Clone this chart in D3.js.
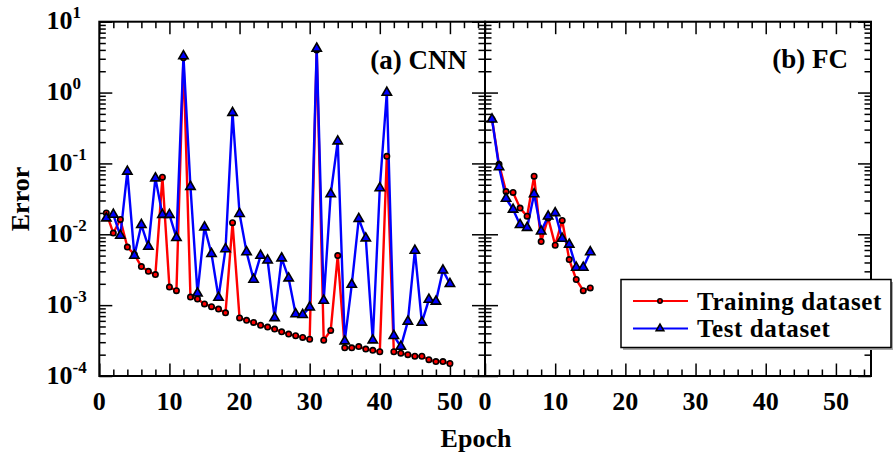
<!DOCTYPE html>
<html lang="en">
<head>
    <meta charset="UTF-8">
    <title>CNN vs FC error</title>
    <style>
        body { margin: 0; background: #fff; }
        text {
            font-family: "Liberation Serif", "Times New Roman", serif;
            font-weight: bold;
            fill: black;
        }
        .tick line { stroke: black; stroke-width: 1.5px; }
        .domain { display: none; }
    </style>
    <script src="https://d3js.org/d3.v7.min.js"></script>
</head>
<body>
    <svg width="896" height="457"></svg>
    <script>
        // Data
        const epochsCNN = d3.range(1, 51);
        const epochsFC = d3.range(1, 16);

        const cnnTrain = [0.020, 0.0104, 0.0162, 0.0066, 0.0052, 0.0035, 0.0030, 0.0027, 0.064, 0.0018,
            0.0016, 3.1, 0.0013, 0.00122, 0.00104, 0.00095, 0.00088, 0.00078, 0.0146, 0.00066,
            0.00061, 0.00057, 0.00052, 0.00049, 0.00046, 0.00042, 0.00039, 0.00037, 0.00035, 0.00033,
            4.0, 0.00032, 0.00044, 0.0050, 0.00025, 0.00025, 0.00026, 0.00024, 0.00023, 0.00022,
            0.126, 0.00022, 0.00021, 0.00020, 0.00019, 0.00019, 0.00017, 0.00016, 0.00016, 0.00015];
        const cnnTest = [0.0169, 0.019, 0.0096, 0.077, 0.0050, 0.0136, 0.0067, 0.062, 0.0189, 0.0189,
            0.0089, 3.27, 0.047, 0.00147, 0.0126, 0.0053, 0.00128, 0.0062, 0.52, 0.0195,
            0.0056, 0.0023, 0.0050, 0.0043, 0.00066, 0.0046, 0.0024, 0.00075, 0.00073, 0.00093,
            4.2, 0.00116, 0.037, 0.206, 0.00031, 0.00195, 0.0166, 0.0088, 0.00032, 0.045,
            1.0, 0.00037, 0.00026, 0.00059, 0.0059, 0.00057, 0.0012, 0.00113, 0.0031, 0.0020];
        const fcTrain = [0.42, 0.097, 0.040, 0.039, 0.0234, 0.018, 0.066, 0.0079, 0.017, 0.0070,
            0.0157, 0.0044, 0.0023, 0.0016, 0.00175];
        const fcTest = [0.42, 0.089, 0.032, 0.0224, 0.0136, 0.0124, 0.037, 0.011, 0.0179, 0.020,
            0.0087, 0.0072, 0.0034, 0.0034, 0.0056];

        const xMajor = [0, 10, 20, 30, 40, 50];
        const xMinor = d3.range(0, 55, 2).filter(v => v % 10 !== 0);
        const yExps = [-4, -3, -2, -1, 0, 1];
        const panelNames = ["(a) CNN", "(b) FC"];
        const seriesNames = ["Training dataset", "Test dataset"];
        const colors = ["red", "blue"];

        const svg = d3.select("svg");
        const plotTop = 21.7, plotBottom = 376, plotLeft = 99.3, plotMid = 485, plotRight = 871;

        const y = d3.scaleLog().domain([1e-4, 10]).range([plotBottom, plotTop]);
        const xA = d3.scaleLinear().domain([0, 55]).range([plotLeft, plotMid]);
        const xB = d3.scaleLinear().domain([0, 55]).range([plotMid, plotRight]);

        const yMinor = [];
        yExps.slice(0, -1).forEach(e => { for (let k = 2; k <= 9; k++) yMinor.push(k * Math.pow(10, e)); });
        const yMajor = yExps.map(e => Math.pow(10, e));

        function drawAxes(x) {
            const x0 = x.range()[0], x1 = x.range()[1];
            svg.append("g").attr("transform", `translate(0,${plotBottom})`)
                .call(d3.axisBottom(x).tickValues(xMajor).tickSize(-12.5).tickFormat(""));
            svg.append("g").attr("transform", `translate(0,${plotBottom})`)
                .call(d3.axisBottom(x).tickValues(xMinor).tickSize(-6.5).tickFormat(""));
            svg.append("g").attr("transform", `translate(0,${plotTop})`)
                .call(d3.axisTop(x).tickValues(xMajor).tickSize(-12.5).tickFormat(""));
            svg.append("g").attr("transform", `translate(0,${plotTop})`)
                .call(d3.axisTop(x).tickValues(xMinor).tickSize(-6.5).tickFormat(""));
            svg.append("g").attr("transform", `translate(${x0},0)`)
                .call(d3.axisLeft(y).tickValues(yMajor).tickSize(-13).tickFormat(""));
            svg.append("g").attr("transform", `translate(${x0},0)`)
                .call(d3.axisLeft(y).tickValues(yMinor).tickSize(-6.5).tickFormat(""));
            svg.append("g").attr("transform", `translate(${x1},0)`)
                .call(d3.axisRight(y).tickValues(yMajor).tickSize(-13).tickFormat(""));
            svg.append("g").attr("transform", `translate(${x1},0)`)
                .call(d3.axisRight(y).tickValues(yMinor).tickSize(-6.5).tickFormat(""));

            svg.append("rect")
                .attr("x", x0).attr("y", plotTop)
                .attr("width", x1 - x0).attr("height", plotBottom - plotTop)
                .attr("fill", "none").attr("stroke", "black").attr("stroke-width", 2);

            svg.selectAll(null).data(xMajor).enter().append("text")
                .attr("x", d => x(d)).attr("y", 410)
                .attr("text-anchor", "middle")
                .attr("font-size", 26)
                .text(d => d);
        }

        drawAxes(xA);
        drawAxes(xB);

        // y tick labels 10^n
        const yl = svg.selectAll(null).data(yExps).enter().append("text")
            .attr("x", 46.5).attr("y", d => y(Math.pow(10, d)) + 7.5)
            .attr("font-size", 26);
        yl.append("tspan").text("10");
        yl.append("tspan").attr("dy", -11).attr("font-size", 17).text(d => d);

        // series
        function drawSeries(x, epochs, values, color) {
            const pts = epochs.map((e, i) => [x(e), y(values[i])]);
            svg.append("path")
                .attr("d", d3.line()(pts))
                .attr("fill", "none").attr("stroke", color)
                .attr("stroke-width", 2.4).attr("stroke-linejoin", "round");
            return pts;
        }

        function drawMarkers(g, pts, color, marker, r) {
            if (marker === "circle") {
                g.selectAll(null).data(pts).enter().append("circle")
                    .attr("cx", d => d[0]).attr("cy", d => d[1]).attr("r", r)
                    .attr("fill", color).attr("stroke", "black").attr("stroke-width", 1.6);
            } else {
                const tri = d3.symbol().type(d3.symbolTriangle).size(r * r * 5.2);
                g.selectAll(null).data(pts).enter().append("path")
                    .attr("d", tri)
                    .attr("transform", d => `translate(${d[0]},${d[1]})`)
                    .attr("fill", color).attr("stroke", "black").attr("stroke-width", 1.6);
            }
        }

        const pA1 = drawSeries(xA, epochsCNN, cnnTrain, colors[0]);
        const pA2 = drawSeries(xA, epochsCNN, cnnTest, colors[1]);
        drawMarkers(svg, pA1, colors[0], "circle", 2.7);
        drawMarkers(svg, pA2, colors[1], "triangle", 2.7);

        const pB1 = drawSeries(xB, epochsFC, fcTrain, colors[0]);
        const pB2 = drawSeries(xB, epochsFC, fcTest, colors[1]);
        drawMarkers(svg, pB1, colors[0], "circle", 2.7);
        drawMarkers(svg, pB2, colors[1], "triangle", 2.7);

        // panel labels
        svg.append("text").attr("x", 467).attr("y", 69).attr("text-anchor", "end")
            .attr("font-size", 27).text(panelNames[0]);
        svg.append("text").attr("x", 848).attr("y", 68).attr("text-anchor", "end")
            .attr("font-size", 27).text(panelNames[1]);

        // axis titles
        svg.append("text").attr("x", 476).attr("y", 447).attr("text-anchor", "middle")
            .attr("font-size", 26).text("Epoch");
        svg.append("text")
            .attr("transform", "translate(29,199) rotate(-90)")
            .attr("text-anchor", "middle").attr("font-size", 26).text("Error");

        // legend
        const lg = svg.append("g");
        lg.append("rect").attr("x", 623).attr("y", 282).attr("width", 270).attr("height", 68)
            .attr("fill", "#aaa");
        lg.append("rect").attr("x", 621).attr("y", 279.5).attr("width", 270).attr("height", 68)
            .attr("fill", "white").attr("stroke", "black").attr("stroke-width", 1.5);
        seriesNames.forEach((name, i) => {
            const ly = 301 + i * 27.5;
            lg.append("line").attr("x1", 633).attr("x2", 688).attr("y1", ly).attr("y2", ly)
                .attr("stroke", colors[i]).attr("stroke-width", 2.2);
            drawMarkers(lg, [[660, ly]], colors[i], i === 0 ? "circle" : "triangle", 2.2);
            lg.append("text").attr("x", 697).attr("y", ly + 8.5)
                .attr("font-size", 25).attr("letter-spacing", 0.6).text(name);
        });
    </script>
</body>
</html>
